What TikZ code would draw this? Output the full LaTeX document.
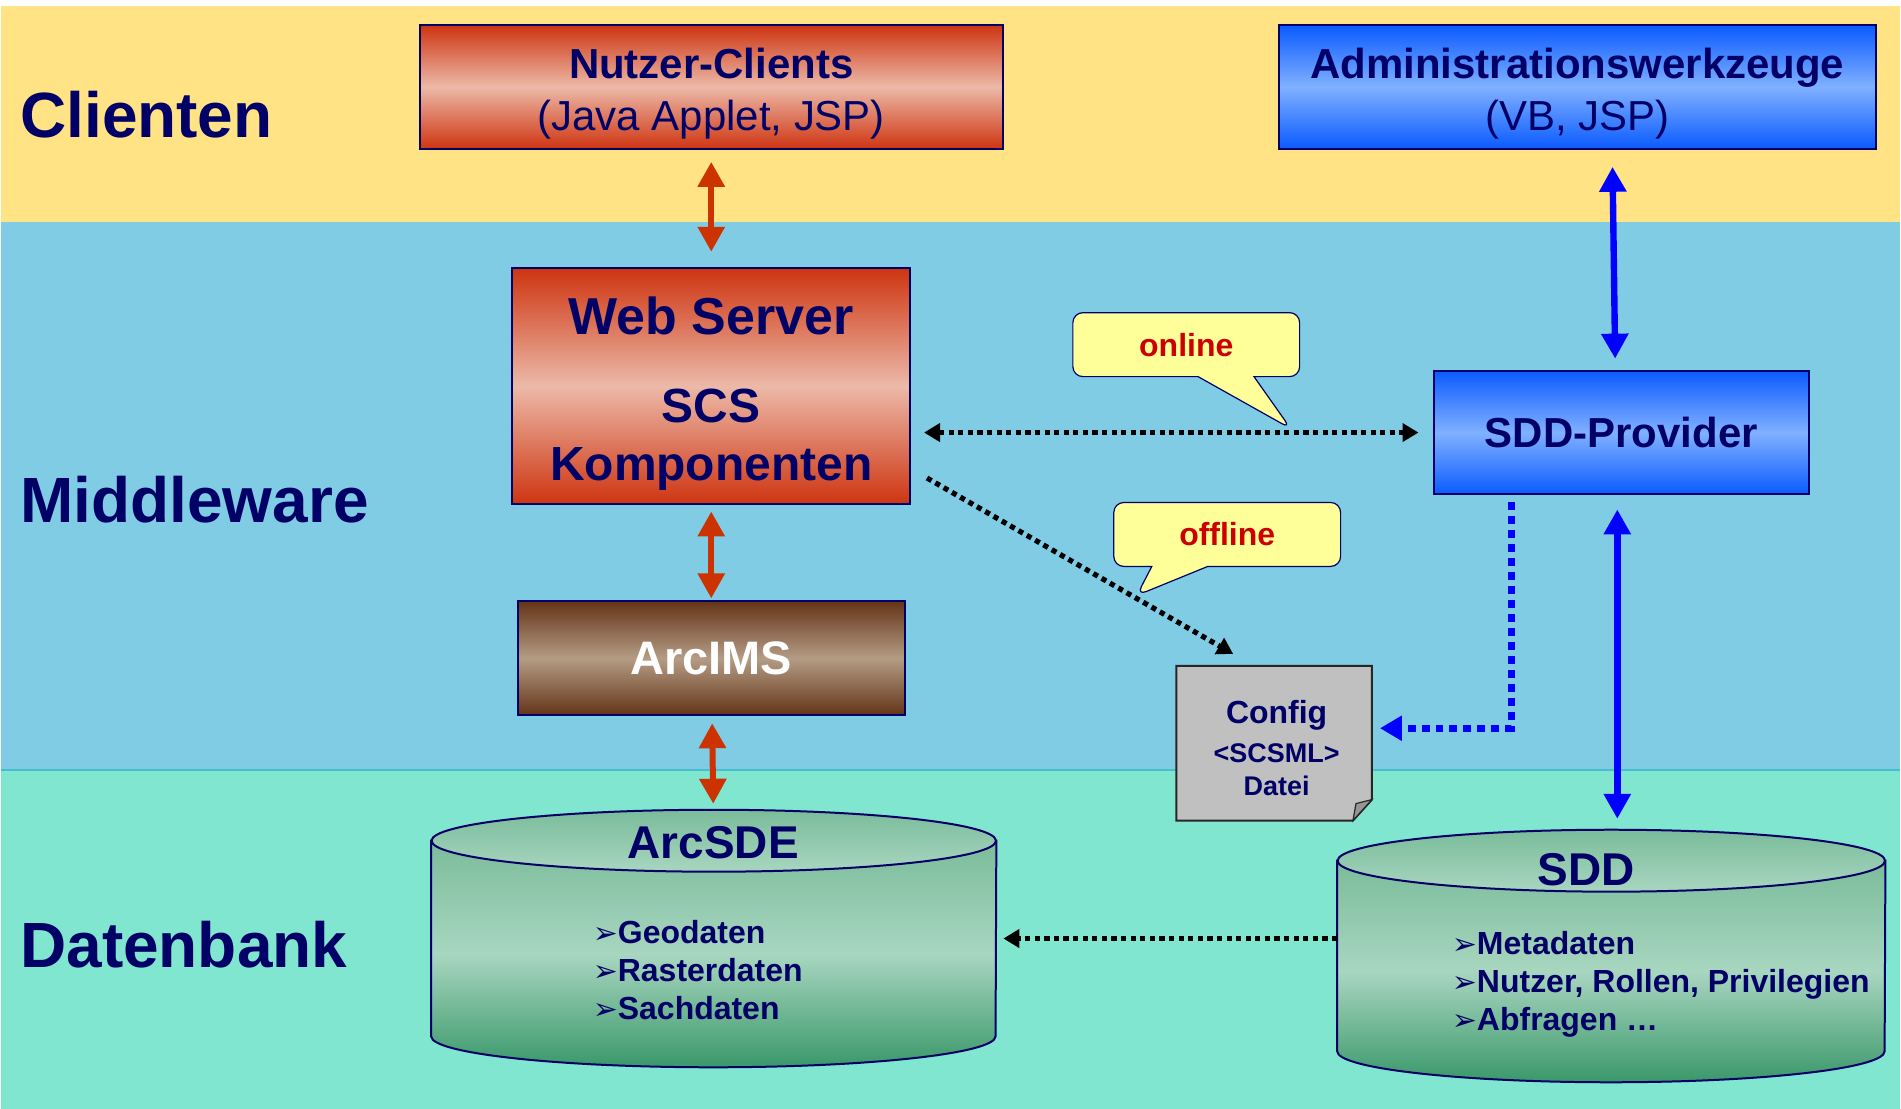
\documentclass[tikz,border=0pt]{standalone}
\usepackage{fontspec}
\setmainfont{Liberation Sans}
\newfontfamily\bulletfont{DejaVu Sans}
\usetikzlibrary{positioning}
\usetikzlibrary{arrows.meta}
\usetikzlibrary{shapes.geometric}
\usetikzlibrary{shapes.callouts}

\definecolor{navy}{RGB}{0,0,102}
\definecolor{bandyellow}{RGB}{255,227,132}
\definecolor{bandblue}{RGB}{128,204,228}
\definecolor{bandgreen}{RGB}{128,230,208}
\definecolor{bandedge}{RGB}{70,190,205}
\definecolor{boxred}{RGB}{206,52,16}
\definecolor{boxredlight}{RGB}{236,185,168}
\definecolor{boxblue}{RGB}{10,90,255}
\definecolor{boxbluelight}{RGB}{128,176,255}
\definecolor{boxbrown}{RGB}{100,52,24}
\definecolor{boxbrownlight}{RGB}{180,156,132}
\definecolor{dbdark}{RGB}{58,152,106}
\definecolor{dbmid}{RGB}{122,188,154}
\definecolor{dblight}{RGB}{168,214,192}
\definecolor{arrowred}{RGB}{204,51,0}
\definecolor{arrowblue}{RGB}{0,0,255}
\definecolor{notefill}{RGB}{255,255,153}
\definecolor{notered}{RGB}{204,0,0}
\definecolor{pagegray}{RGB}{192,192,192}
\definecolor{foldgray}{RGB}{150,150,150}

\newcommand{\dbitem}{{\bulletfont\fontsize{15}{19}\selectfont\char"27A2}}

\begin{document}
\begin{tikzpicture}
		[x=0.5pt, y=-0.5pt,
		layer/.style={anchor=west, inner sep=0pt, text=navy, font=\bfseries\fontsize{32}{38}\selectfont},
		box/.style={draw=navy, line width=1pt, text=navy, align=center, inner sep=0pt},
		redbox/.style={box, top color=boxred, bottom color=boxred, middle color=boxredlight},
		bluebox/.style={box, top color=boxblue, bottom color=boxblue, middle color=boxbluelight},
		brownbox/.style={box, top color=boxbrown, bottom color=boxbrown, middle color=boxbrownlight},
		dbbody/.style={inner sep=0pt},
		dbshade/.style={draw=navy, line width=1pt, top color=dbmid, bottom color=dbdark, middle color=dblight},
		dbtop/.style={ellipse, inner sep=0pt, draw=navy, line width=1pt, top color=dbmid, bottom color=dblight},
		dblabel/.style={inner sep=0pt, text=navy, font=\bfseries\fontsize{23}{28}\selectfont},
		dbitems/.style={anchor=west, align=left, inner sep=0pt, text=navy, font=\bfseries\fontsize{16}{19}\selectfont},
		configpage/.style={draw=black!85, line width=1pt, fill=pagegray},
		configfold/.style={draw=black!85, line width=0.6pt, fill=foldgray},
		configtext/.style={align=center, inner sep=0pt, text=navy, font=\bfseries\fontsize{13.5}{16.5}\selectfont},
		note/.style={rectangle callout, rounded corners=5pt, fill=notefill, draw=navy, line width=0.6pt,
			minimum width=113.5pt, minimum height=32pt, callout pointer width=28pt,
			text=notered, font=\bfseries\fontsize{16}{19}\selectfont},
		redarrow/.style={draw=arrowred, line width=3pt, >={Triangle[width=13pt,length=12.5pt]}, <->},
		bluearrow/.style={draw=arrowblue, line width=3.2pt, >={Triangle[width=13pt,length=12.5pt]}, <->},
		dotarrow/.style={draw=black, line width=2.6pt, dash pattern=on 2.6pt off 2.2pt, >={Triangle[width=9pt,length=8pt]}},
		bluedots/.style={draw=arrowblue, line width=3.4pt, dash pattern=on 4pt off 3pt, >={Triangle[width=12pt,length=11pt]}, ->}]
		\fill[white] (0,0) rectangle (1901,1110);
		\fill[bandyellow] (0,6) rectangle (1901,222);
		\fill[bandblue] (0,222) rectangle (1901,771);
		\fill[bandgreen] (0,771) rectangle (1901,1110);
		\draw[bandedge, line width=1pt] (0,771) -- (1901,771);

		\node[layer] (clienten) at (19,115) {Clienten};
		\node[layer] (middleware) at (19,500) {Middleware};
		\node[layer] (datenbank) at (19,946) {Datenbank};

		\node[redbox, minimum width=292pt, minimum height=62pt, font=\fontsize{21}{26}\selectfont] (clients) at (711,87) {\textbf{\rule{0pt}{21.5pt}Nutzer-Clients}\\(Java Applet, JSP)};
		\node[bluebox, minimum width=299pt, minimum height=62pt, font=\fontsize{21}{26}\selectfont] (admin) at (1578,87) {\textbf{\rule{0pt}{21.5pt}Administrationswerkzeuge}\\(VB, JSP)};
		\node[redbox, minimum width=199pt, minimum height=118.5pt, below=58.5pt of clients, font=\bfseries\fontsize{24}{29}\selectfont] (web) {{\fontsize{26}{29}\selectfont\rule{0pt}{26pt}Web Server}\\[15pt]SCS\\Komponenten};
		\node[brownbox, minimum width=193.5pt, minimum height=57pt, below=47.5pt of web, text=white, font=\bfseries\fontsize{23.5}{28}\selectfont] (arcims) {ArcIMS};
		\node[bluebox, minimum width=188pt, minimum height=62pt, font=\bfseries\fontsize{21}{26}\selectfont] (provider) at (1622,433) {SDD-Provider};

		\node[dbbody, minimum width=282.5pt, minimum height=97.5pt] (arcsde) at (713.5,939.5) {};
		\path[dbshade] (arcsde.north west) -- (arcsde.south west) arc[start angle=180, end angle=360, x radius=141.25pt, y radius=15.5pt] -- (arcsde.north east) -- cycle;
		\node[dbtop, minimum width=282.5pt, minimum height=31pt] (arcsdetop) at (arcsde.north) {};
		\node[dblabel] (arcsdename) at (713,844) {ArcSDE};
		\node[dbitems] (arcsdeitems) at (592,971) {\dbitem Geodaten\\\dbitem Rasterdaten\\\dbitem Sachdaten};

		\node[dbbody, minimum width=274pt, minimum height=95pt] (sdd) at (1612,957) {};
		\path[dbshade] (sdd.north west) -- (sdd.south west) arc[start angle=180, end angle=360, x radius=137pt, y radius=15.5pt] -- (sdd.north east) -- cycle;
		\node[dbtop, minimum width=274pt, minimum height=31pt] (sddtop) at (sdd.north) {};
		\node[dblabel] (sddname) at (1587,871) {SDD};
		\node[dbitems] (sdditems) at (1452,985) {\dbitem Metadaten\\\dbitem Nutzer, Rollen, Privilegien\\\dbitem Abfragen …};

		\node[inner sep=0pt, minimum width=97.5pt, minimum height=77pt] (config) at (1274.5,744) {};
		\draw[configpage] (config.north west) -- (config.north east) -- ([yshift=10.5pt]config.south east) -- ([xshift=-9.5pt]config.south east) -- (config.south west) -- cycle;
		\draw[configfold] ([yshift=10.5pt]config.south east) -- ([xshift=-8pt,yshift=8.5pt]config.south east) -- ([xshift=-9.5pt]config.south east) -- cycle;
		\node[configtext] (configlabel) at (1277,749) {{\fontsize{16}{20}\selectfont Config}\\[3pt]<SCSML>\\Datei};

		\draw[redarrow, shorten <=6pt, shorten >=7.5pt] (clients) -- (web);
		\draw[redarrow, shorten <=3pt, shorten >=1pt] (web) -- (arcims);
		\draw[redarrow, shorten <=3.5pt, shorten >=2.5pt] (arcims) -- (arcsdetop);
		\draw[bluearrow, shorten <=8.5pt, shorten >=5.5pt] ([xshift=17.5pt]admin.south) -- ([xshift=-3pt]provider.north);
		\draw[bluearrow, shorten <=7pt, shorten >=5pt] ([xshift=-2pt]provider.south) -- ([xshift=3pt]sddtop.north);
		\draw[dotarrow, <->, shorten <=6.5pt, shorten >=7pt] (web.east |- provider.west) -- (provider.west);
		\draw[dotarrow, ->] ([xshift=8pt,yshift=-46pt]web.east) -- ([xshift=-20.5pt,yshift=6pt]config.north);
		\draw[bluedots, shorten <=3.5pt, shorten >=4pt] ([xshift=-55pt]provider.south) |- ([yshift=7.5pt]config.east);
		\draw[dotarrow, ->, shorten >=3.5pt] (sdd.west |- arcsde.east) -- (arcsde.east);

		\node[note, callout absolute pointer={(1291,429)}] (online) at (1186.5,345) {online};
		\node[note, callout absolute pointer={(1137,596)}] (offline) at (1227.5,535) {offline};
	\end{tikzpicture}
\end{document}
